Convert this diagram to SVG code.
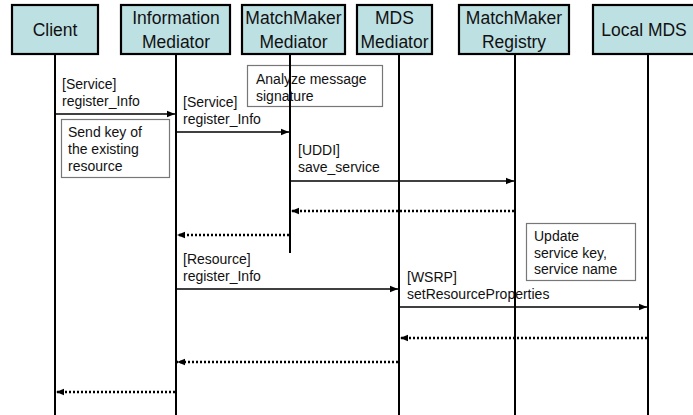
<svg xmlns="http://www.w3.org/2000/svg" width="693" height="415" viewBox="0 0 693 415">
  <style>
    .head { fill: #bde0e3; stroke: #000; stroke-width: 2.2; }
    .title { font-family: "Liberation Sans", Arial, sans-serif; font-size: 17.5px; fill: #111; text-anchor: middle; }
    .life { stroke: #000; stroke-width: 2; fill: none; }
    .note { fill: #fff; stroke: #777; stroke-width: 1.2; }
    .txt { font-family: "Liberation Sans", Arial, sans-serif; font-size: 14px; fill: #111; }
    .call { stroke: #000; stroke-width: 1.6; fill: none; marker-end: url(#head); }
    .ret { stroke: #000; stroke-width: 2.4; stroke-dasharray: 2 2; fill: none; marker-end: url(#head); }
  </style>
  <defs>
    <marker id="head" viewBox="0 0 10 10" refX="10" refY="5" markerUnits="userSpaceOnUse" markerWidth="8" markerHeight="8" orient="auto">
      <path d="M0,1 L10,5 L0,9 Z" fill="#000"/>
    </marker>
  </defs>
  <rect width="693" height="415" fill="#fff"/>

  <!-- notes -->
  <g id="note-analyze">
    <rect class="note" x="247.5" y="65.5" width="135" height="41"/>
    <text class="txt" x="256" y="84">Analyze message</text>
    <text class="txt" x="256" y="101">signature</text>
  </g>
  <g id="note-sendkey">
    <rect class="note" x="61.5" y="119.5" width="108" height="58"/>
    <text class="txt" x="68" y="137">Send key of</text>
    <text class="txt" x="68" y="154">the existing</text>
    <text class="txt" x="68" y="171">resource</text>
  </g>
  <g id="note-update">
    <rect class="note" x="526.5" y="223.5" width="109" height="57"/>
    <text class="txt" x="534" y="241">Update</text>
    <text class="txt" x="534" y="257.5">service key,</text>
    <text class="txt" x="534" y="274">service name</text>
  </g>

  <!-- message labels -->
  <g id="labels">
    <text class="txt" x="62" y="89">[Service]</text>
    <text class="txt" x="62" y="106">register_Info</text>
    <text class="txt" x="183" y="107">[Service]</text>
    <text class="txt" x="183" y="124">register_Info</text>
    <text class="txt" x="298" y="155">[UDDI]</text>
    <text class="txt" x="298" y="172">save_service</text>
    <text class="txt" x="183" y="264">[Resource]</text>
    <text class="txt" x="183" y="281">register_Info</text>
    <text class="txt" x="407" y="282">[WSRP]</text>
    <text class="txt" x="407" y="299">setResourceProperties</text>
  </g>

  <!-- participants -->
  <g id="client">
    <rect class="head" x="12" y="5" width="86" height="49"/>
    <text class="title" x="55" y="36">Client</text>
    <line class="life" x1="55" y1="54" x2="55" y2="415"/>
  </g>
  <g id="information-mediator">
    <rect class="head" x="121" y="5" width="109" height="49"/>
    <text class="title" x="176" y="24">Information</text>
    <text class="title" x="176" y="48">Mediator</text>
    <line class="life" x1="176" y1="54" x2="176" y2="415"/>
  </g>
  <g id="matchmaker-mediator">
    <rect class="head" x="242" y="5" width="103" height="49"/>
    <text class="title" x="293.5" y="24">MatchMaker</text>
    <text class="title" x="293.5" y="48">Mediator</text>
    <line class="life" x1="290" y1="54" x2="290" y2="253"/>
  </g>
  <g id="mds-mediator">
    <rect class="head" x="357" y="5" width="75" height="49"/>
    <text class="title" x="394.5" y="24">MDS</text>
    <text class="title" x="394.5" y="48">Mediator</text>
    <line class="life" x1="399" y1="54" x2="399" y2="415"/>
  </g>
  <g id="matchmaker-registry">
    <rect class="head" x="459" y="5" width="110" height="49"/>
    <text class="title" x="514" y="24">MatchMaker</text>
    <text class="title" x="514" y="48">Registry</text>
    <line class="life" x1="515" y1="54" x2="515" y2="415"/>
  </g>
  <g id="local-mds">
    <rect class="head" x="593" y="5" width="104" height="49"/>
    <text class="title" x="644" y="36">Local MDS</text>
    <line class="life" x1="648" y1="54" x2="648" y2="415"/>
  </g>

  <!-- messages -->
  <g id="connectors">
    <line class="call" x1="55" y1="114" x2="175" y2="114"/>
    <line class="call" x1="176" y1="132" x2="289" y2="132"/>
    <line class="call" x1="290" y1="181" x2="514" y2="181"/>
    <line class="ret" x1="514" y1="211" x2="291" y2="211"/>
    <line class="ret" x1="289" y1="235" x2="177" y2="235"/>
    <line class="call" x1="176" y1="289" x2="398" y2="289"/>
    <line class="call" x1="399" y1="307" x2="647" y2="307"/>
    <line class="ret" x1="647" y1="338" x2="400" y2="338"/>
    <line class="ret" x1="398" y1="362" x2="177" y2="362"/>
    <line class="ret" x1="175" y1="392" x2="56" y2="392"/>
  </g>
</svg>
